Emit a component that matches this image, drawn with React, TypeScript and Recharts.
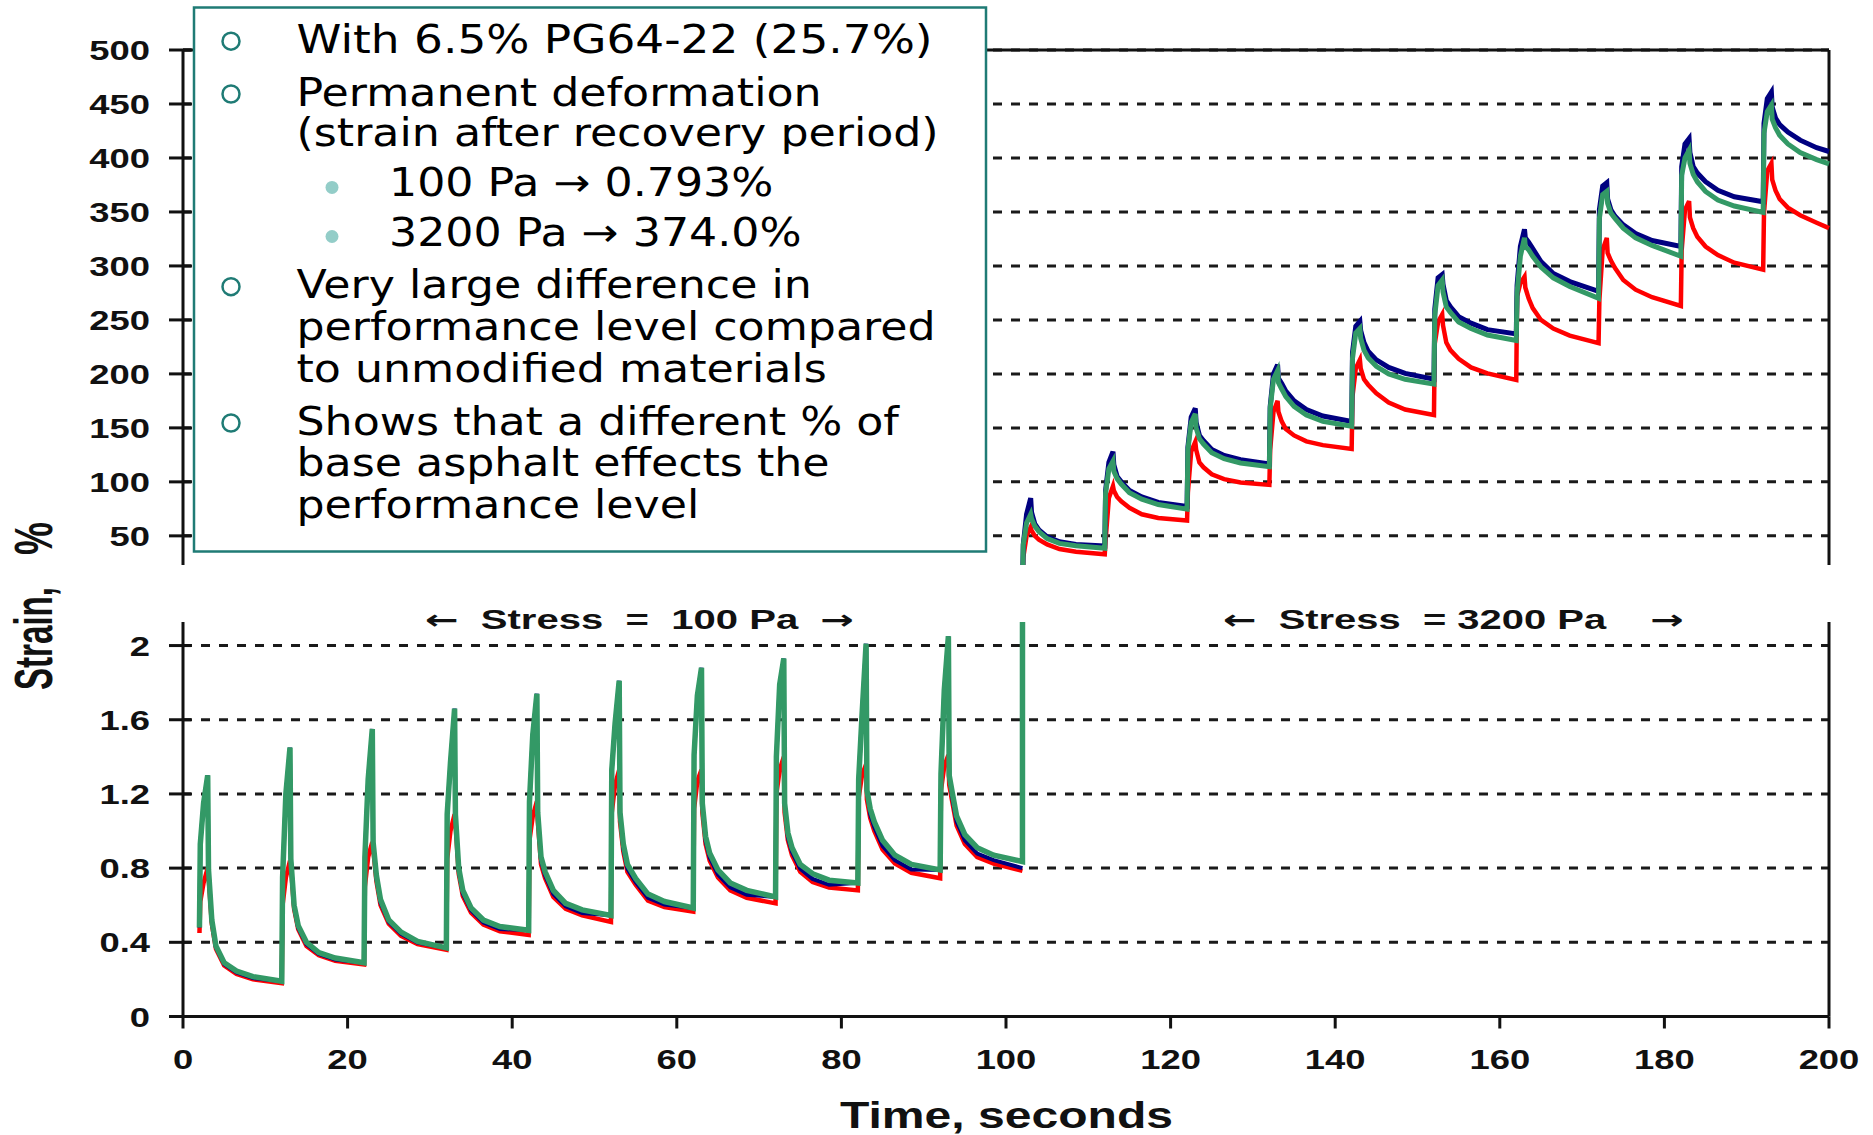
import React from 'react';
import { LineChart, Line, XAxis, YAxis, CartesianGrid, ReferenceLine } from 'recharts';

// ---- 100 Pa stage (lower panel), strain in % ----
const lowTime = [
  2, 2.1, 2.5, 3, 3.1, 3.5, 4, 5, 6.5, 8.5,
  12, 12.1, 12.5, 13, 13.1, 13.5, 14, 15, 16.5, 18.5,
  22, 22.1, 22.5, 23, 23.1, 23.5, 24, 25, 26.5, 28.5,
  32, 32.1, 32.5, 33, 33.1, 33.5, 34, 35, 36.5, 38.5,
  42, 42.1, 42.5, 43, 43.1, 43.5, 44, 45, 46.5, 48.5,
  52, 52.1, 52.5, 53, 53.1, 53.5, 54, 55, 56.5, 58.5,
  62, 62.1, 62.5, 63, 63.1, 63.5, 64, 65, 66.5, 68.5,
  72, 72.1, 72.5, 73, 73.1, 73.5, 74, 75, 76.5, 78.5,
  82, 82.1, 82.5, 83, 83.1, 83.5, 84, 85, 86.5, 88.5,
  92, 92.1, 92.5, 93, 93.1, 93.5, 94, 95, 96.5, 98.5,
  102,
];

const lowRed = [
  0.45, 0.62, 0.72, 0.80, 0.76, 0.50, 0.365, 0.275, 0.23, 0.20,
  0.18, 0.60, 0.75, 0.84, 0.82, 0.58, 0.47, 0.38, 0.33, 0.30,
  0.28, 0.70, 0.86, 0.94, 0.91, 0.73, 0.60, 0.50, 0.435, 0.39,
  0.36, 0.85, 1.00, 1.09, 1.05, 0.77, 0.65, 0.56, 0.495, 0.46,
  0.44, 0.95, 1.08, 1.16, 1.06, 0.82, 0.745, 0.645, 0.58, 0.545,
  0.51, 1.10, 1.25, 1.33, 1.05, 0.89, 0.78, 0.71, 0.625, 0.59,
  0.565, 1.12, 1.27, 1.33, 1.10, 0.93, 0.84, 0.75, 0.68, 0.64,
  0.61, 1.20, 1.33, 1.40, 1.10, 0.95, 0.87, 0.78, 0.725, 0.695,
  0.68, 1.18, 1.30, 1.36, 1.17, 1.07, 1.00, 0.90, 0.825, 0.775,
  0.745, 1.22, 1.35, 1.41, 1.25, 1.15, 1.03, 0.93, 0.86, 0.825,
  0.785,
];

const lowNavy = [
  0.48, 0.93, 1.15, 1.30, 0.79, 0.51, 0.372, 0.282, 0.237, 0.207,
  0.19, 0.75, 1.20, 1.45, 0.85, 0.59, 0.478, 0.39, 0.337, 0.307,
  0.29, 0.86, 1.28, 1.55, 0.94, 0.745, 0.613, 0.51, 0.445, 0.398,
  0.37, 1.09, 1.37, 1.66, 1.09, 0.785, 0.662, 0.572, 0.506, 0.472,
  0.465, 1.16, 1.52, 1.74, 1.10, 0.84, 0.76, 0.66, 0.594, 0.558,
  0.545, 1.33, 1.58, 1.81, 1.10, 0.905, 0.797, 0.725, 0.64, 0.603,
  0.585, 1.41, 1.73, 1.88, 1.15, 0.945, 0.857, 0.765, 0.697, 0.656,
  0.645, 1.40, 1.79, 1.93, 1.15, 0.965, 0.887, 0.797, 0.742, 0.71,
  0.72, 1.28, 1.62, 2.01, 1.22, 1.09, 1.02, 0.92, 0.843, 0.793,
  0.79, 1.31, 1.76, 2.05, 1.30, 1.17, 1.05, 0.95, 0.878, 0.843,
  0.80,
];

const lowGreen = [
  0.48, 0.93, 1.15, 1.30, 0.79, 0.52, 0.38, 0.29, 0.245, 0.215,
  0.19, 0.75, 1.20, 1.45, 0.85, 0.60, 0.49, 0.40, 0.345, 0.315,
  0.29, 0.86, 1.28, 1.55, 0.94, 0.76, 0.63, 0.52, 0.455, 0.405,
  0.37, 1.09, 1.37, 1.66, 1.09, 0.80, 0.68, 0.585, 0.52, 0.485,
  0.465, 1.16, 1.52, 1.74, 1.10, 0.86, 0.78, 0.68, 0.61, 0.575,
  0.545, 1.33, 1.58, 1.81, 1.10, 0.93, 0.82, 0.745, 0.66, 0.62,
  0.585, 1.41, 1.73, 1.88, 1.15, 0.97, 0.88, 0.79, 0.72, 0.68,
  0.645, 1.40, 1.79, 1.93, 1.15, 0.99, 0.91, 0.82, 0.77, 0.735,
  0.72, 1.28, 1.62, 2.01, 1.22, 1.12, 1.05, 0.95, 0.87, 0.82,
  0.79, 1.31, 1.76, 2.05, 1.30, 1.20, 1.08, 0.98, 0.91, 0.87,
  0.835,
];

// green trace leaves the lower scale when the 3200 Pa stage starts
const switchTime = [102.1];
const switchGreen = [40];

// ---- 3200 Pa stage (upper panel), strain in % ----
const highTime = [
  102, 102.1, 102.5, 103, 103.1, 103.5, 104, 105, 106.5, 108.5,
  112, 112.1, 112.5, 113, 113.1, 113.5, 114, 115, 116.5, 118.5,
  122, 122.1, 122.5, 123, 123.1, 123.5, 124, 125, 126.5, 128.5,
  132, 132.1, 132.5, 133, 133.1, 133.5, 134, 135, 136.5, 138.5,
  142, 142.1, 142.5, 143, 143.1, 143.5, 144, 145, 146.5, 148.5,
  152, 152.1, 152.5, 153, 153.1, 153.5, 154, 155, 156.5, 158.5,
  162, 162.1, 162.5, 163, 163.1, 163.5, 164, 165, 166.5, 168.5,
  172, 172.1, 172.5, 173, 173.1, 173.5, 174, 175, 176.5, 178.5,
  182, 182.1, 182.5, 183, 183.1, 183.5, 184, 185, 186.5, 188.5,
  192, 192.1, 192.5, 193, 193.1, 193.5, 194, 195, 196.5, 198.5,
  200,
];

const highRed = [
  0.785, 30, 50, 58, 55, 50, 46.5, 42, 37.8, 35.3,
  33, 46, 85, 96, 92, 86, 82, 76, 70, 66.5,
  64.2, 90, 128, 137, 130, 118, 113.5, 107, 102.5, 99.5,
  97.2, 130, 165, 175, 165, 156, 149, 143, 137.5, 134,
  130.5, 179, 205, 213, 205, 195, 190, 182, 173.5, 167,
  162, 228, 248, 255, 245, 229, 222, 214, 206, 200.5,
  194.5, 272, 284, 290, 280, 270, 261, 250, 242, 235.5,
  228.5, 268.5, 315, 326, 312, 305, 298, 287, 278, 271,
  263, 314.8, 352, 360, 345, 335, 327, 318, 310, 303,
  296.5, 349, 388, 395, 380, 370, 362, 354, 347, 340,
  335,
];

const highNavy = [
  0.8, 42, 70, 85, 72, 61, 55.5, 49, 44.5, 42,
  40.5, 92, 118, 128, 116, 105, 100, 92, 86, 81,
  77.2, 132, 160, 168, 155, 143, 138, 130, 124.5, 120.5,
  116.5, 170, 200, 208.5, 196, 191, 184, 175, 167, 161,
  156, 220, 244, 248.5, 240, 229, 221, 213, 206, 200.5,
  195, 260, 289, 292, 283, 268, 262, 253, 247, 241,
  237, 282, 318, 334, 326, 322, 316, 304, 293, 285.5,
  276.5, 352, 374, 377, 362, 352, 346, 338, 330, 323.5,
  318, 392, 413, 418, 405, 392, 386, 378, 370, 364,
  359.5, 432, 455, 461, 447, 437, 431, 424, 416.5, 409.5,
  406,
];

const highGreen = [
  0.835, 41.7, 62, 70, 66, 59, 54, 47.5, 43, 40.8,
  38.5, 89.5, 112, 119, 110, 103, 98, 90, 84, 79,
  74.7, 129.6, 155, 163, 150, 140, 135, 127, 121.5, 117.5,
  114, 168, 195, 203, 192, 186, 179, 170, 162, 156,
  151.5, 214, 238, 242, 233, 222, 215, 207, 200, 195,
  190.5, 254, 282, 287, 276, 262, 257, 248, 242, 236,
  231, 275, 309, 326, 318, 315, 309, 299, 289, 281,
  270, 344, 366, 369, 358, 349, 344, 335, 326, 319,
  309, 384, 400, 407, 395, 385, 378, 369, 361, 355.5,
  349.5, 423, 443, 449, 436, 428, 421, 413, 405, 398.5,
  394.5,
];

const timeTicks = [0, 20, 40, 60, 80, 100, 120, 140, 160, 180, 200];
const highTicks = [50, 100, 150, 200, 250, 300, 350, 400, 450, 500];
const lowTicks = [0, 0.4, 0.8, 1.2, 1.6, 2];

const notes = [
  { bullet: 'ring', lines: ['With 6.5% PG64-22 (25.7%)'] },
  { bullet: 'ring', lines: ['Permanent deformation', '(strain after recovery period)'] },
  { bullet: 'dot', lines: ['100 Pa \u2192 0.793%'] },
  { bullet: 'dot', lines: ['3200 Pa \u2192 374.0%'] },
  { bullet: 'ring', lines: ['Very large difference in', 'performance level compared', 'to unmodified materials'] },
  { bullet: 'ring', lines: ['Shows that a different % of', 'base asphalt effects the', 'performance level'] },
];
const noteBaselines = [[52.7], [105.5, 146], [196.4], [245.5], [298.2, 340, 381.8], [434.5, 476.4, 518.2]];

const RED = '#ff0000';
const NAVY = '#000080';
const GREEN = '#339966';
const TEAL = '#1f7b75';
const DOT = '#93cdc8';
const INK = '#111111';
const ARIAL = "'Liberation Sans', Arial, sans-serif";
const DEJAVU = "'DejaVu Sans', Verdana, sans-serif";

const W = 1873;
const H = 1135;
const LEFT = 183;
const RIGHT = 1829;
const TICK_OUT = 14;
const TICK_GAP = 19;

const toPoints = (t: number[], v: number[]) => t.map((x, i) => ({ t: x, v: v[i] }));

function YTick(props: any) {
  const { x, y, payload } = props;
  const axisX = x + TICK_OUT + TICK_GAP;
  return (
    <g>
      <line x1={axisX - TICK_OUT} x2={axisX + 8} y1={y} y2={y} stroke={INK} strokeWidth={3} />
      <text transform={`translate(${x},${y}) scale(1.3,1)`} textAnchor="end" dy="0.36em"
        fontFamily={ARIAL} fontWeight={700} fontSize={28} fill={INK}>
        {payload.value}
      </text>
    </g>
  );
}

function XTick(props: any) {
  const { x, y, payload } = props;
  return (
    <text transform={`translate(${x},${y}) scale(1.3,1)`} textAnchor="middle" dy="0.72em"
      fontFamily={ARIAL} fontWeight={700} fontSize={28} fill={INK}>
      {payload.value}
    </text>
  );
}

function Notes() {
  return (
    <svg width={W} height={H} style={{ position: 'absolute', left: 0, top: 0 }}>
      <rect x={194} y={7.5} width={792} height={544} fill="#fff" stroke={TEAL} strokeWidth={2.5} />
      {notes.map((n, i) => {
        const base = noteBaselines[i];
        const sub = n.bullet === 'dot';
        const tx = sub ? 389 : 296.5;
        return (
          <g key={i}>
            {sub ? (
              <circle cx={332} cy={base[0] - 9} r={6.5} fill={DOT} />
            ) : (
              <circle cx={231} cy={base[0] - 11.5} r={8.5} fill="none" stroke={TEAL} strokeWidth={2.5} />
            )}
            {n.lines.map((line, j) => (
              <text key={j} transform={`translate(${tx},${base[j]}) scale(${i === 0 ? 1.18 : 1.15},1)`}
                fontFamily={DEJAVU} fontSize={38.5} fill="#000">
                {line}
              </text>
            ))}
          </g>
        );
      })}
      <text x={425} y={629} textLength={429} lengthAdjust="spacingAndGlyphs"
        fontFamily={ARIAL} fontWeight={700} fontSize={27} fill={INK} style={{ whiteSpace: 'pre' }}>
        <tspan fontFamily={DEJAVU}>{'\u2190'}</tspan>
        {'  Stress  =  100 Pa  '}
        <tspan fontFamily={DEJAVU}>{'\u2192'}</tspan>
      </text>
      <text x={1223} y={629} textLength={461} lengthAdjust="spacingAndGlyphs"
        fontFamily={ARIAL} fontWeight={700} fontSize={27} fill={INK} style={{ whiteSpace: 'pre' }}>
        <tspan fontFamily={DEJAVU}>{'\u2190'}</tspan>
        {'  Stress  = 3200 Pa    '}
        <tspan fontFamily={DEJAVU}>{'\u2192'}</tspan>
      </text>
      <text x={840} y={1128} textLength={333} lengthAdjust="spacingAndGlyphs"
        fontFamily={ARIAL} fontWeight={700} fontSize={36} fill={INK}>
        Time, seconds
      </text>
      <text transform="translate(52,690) rotate(-90)" textLength={103} lengthAdjust="spacingAndGlyphs"
        fontFamily={ARIAL} fontWeight={700} fontSize={54} fill={INK}>
        Strain,
      </text>
      <text transform="translate(52,555) rotate(-90)" textLength={33} lengthAdjust="spacingAndGlyphs"
        fontFamily={ARIAL} fontWeight={700} fontSize={54} fill={INK}>
        %
      </text>
    </svg>
  );
}

export default function App() {
  const axisStyle = { stroke: INK, strokeWidth: 3 };
  const grid = (
    <CartesianGrid vertical={false} syncWithTicks stroke="#1a1a1a" strokeWidth={3} strokeDasharray="9 9" />
  );
  return (
    <div style={{ position: 'absolute', left: 0, top: 0, width: W, height: H, background: '#fff', overflow: 'hidden' }}>
      {/* upper panel: 3200 Pa */}
      <div style={{ position: 'absolute', left: 0, top: 0 }}>
        <LineChart width={W} height={600} margin={{ top: 50, right: W - RIGHT, bottom: 35, left: LEFT - 60 }}>
          {grid}
          <XAxis type="number" dataKey="t" domain={[0, 200]} hide />
          <YAxis type="number" domain={[23, 500]} ticks={highTicks} interval={0} width={60} allowDataOverflow
            axisLine={axisStyle} tickLine={false} tickSize={TICK_OUT} tickMargin={TICK_GAP} tick={YTick} />
          <ReferenceLine y={500} stroke={INK} strokeWidth={3} />
          <ReferenceLine x={200} stroke={INK} strokeWidth={3} />
          <Line data={toPoints(highTime, highRed)} dataKey="v" type="linear" stroke={RED} strokeWidth={4.5}
            dot={false} isAnimationActive={false} />
          <Line data={toPoints(highTime, highNavy)} dataKey="v" type="linear" stroke={NAVY} strokeWidth={5}
            dot={false} isAnimationActive={false} />
          <Line data={toPoints(highTime, highGreen)} dataKey="v" type="linear" stroke={GREEN} strokeWidth={5}
            dot={false} isAnimationActive={false} />
        </LineChart>
      </div>
      {/* lower panel: 100 Pa */}
      <div style={{ position: 'absolute', left: 0, top: 0 }}>
        <LineChart width={W} height={H} margin={{ top: 622, right: W - RIGHT, bottom: H - 1016.5 - 60, left: LEFT - 60 }}>
          {grid}
          <XAxis type="number" dataKey="t" domain={[0, 200]} ticks={timeTicks} interval={0} height={60}
            axisLine={axisStyle} tickLine={axisStyle} tickSize={12} tickMargin={20} tick={XTick} />
          <YAxis type="number" domain={[0, 2.127]} ticks={lowTicks} interval={0} width={60} allowDataOverflow
            axisLine={axisStyle} tickLine={false} tickSize={TICK_OUT} tickMargin={TICK_GAP} tick={YTick} />
          <ReferenceLine x={200} stroke={INK} strokeWidth={3} />
          <Line data={toPoints(lowTime, lowRed)} dataKey="v" type="linear" stroke={RED} strokeWidth={4.5}
            dot={false} isAnimationActive={false} />
          <Line data={toPoints(lowTime, lowNavy)} dataKey="v" type="linear" stroke={NAVY} strokeWidth={4}
            dot={false} isAnimationActive={false} />
          <Line data={toPoints(lowTime.concat(switchTime), lowGreen.concat(switchGreen))} dataKey="v" type="linear"
            stroke={GREEN} strokeWidth={5.5} dot={false} isAnimationActive={false} />
        </LineChart>
      </div>
      <Notes />
    </div>
  );
}
